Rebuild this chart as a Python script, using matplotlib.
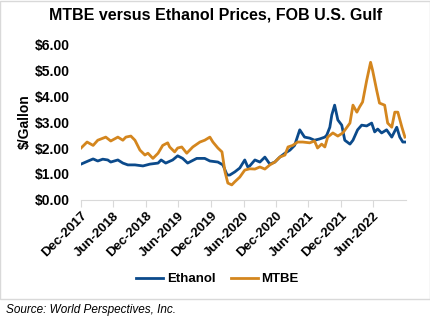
import pandas as pd
import matplotlib
matplotlib.use("Agg")
import matplotlib.pyplot as plt
import matplotlib.dates as mdates
from matplotlib.patches import Rectangle

plt.rcParams['font.family'] = ['Liberation Sans', 'DejaVu Sans']

eth_dates = ["2017-12-01", "2018-01-10", "2018-02-07", "2018-03-05", "2018-04-02", "2018-04-30",
             "2018-05-17", "2018-06-26", "2018-07-24", "2018-08-21", "2018-09-30", "2018-11-14",
             "2018-12-23", "2019-02-07", "2019-02-24", "2019-03-22", "2019-04-30", "2019-05-28",
             "2019-06-25", "2019-07-23", "2019-09-12", "2019-10-27", "2019-11-25", "2020-01-09",
             "2020-02-06", "2020-03-01", "2020-03-16", "2020-04-13", "2020-05-11", "2020-06-08",
             "2020-06-25", "2020-07-06", "2020-08-04", "2020-09-01", "2020-09-29", "2020-10-27",
             "2020-11-24", "2020-12-22", "2021-01-20", "2021-02-17", "2021-03-15", "2021-04-13",
             "2021-05-10", "2021-06-08", "2021-07-05", "2021-08-03", "2021-09-01", "2021-09-12",
             "2021-09-29", "2021-10-10", "2021-10-26", "2021-11-13", "2021-12-05", "2021-12-22",
             "2022-01-20", "2022-02-06", "2022-03-04", "2022-03-27", "2022-04-24", "2022-05-22",
             "2022-06-08", "2022-06-25", "2022-07-17", "2022-08-14", "2022-09-12", "2022-10-10",
             "2022-10-27", "2022-11-13", "2022-11-30"]
eth_vals = [1.38, 1.50, 1.58, 1.50, 1.57, 1.54,
            1.46, 1.54, 1.42, 1.35, 1.35, 1.31,
            1.38, 1.42, 1.54, 1.42, 1.54, 1.70,
            1.60, 1.42, 1.60, 1.60, 1.50, 1.46,
            1.35, 0.96, 0.96, 1.08, 1.23, 1.54,
            1.27, 1.31, 1.54, 1.46, 1.65, 1.38,
            1.46, 1.65, 1.80, 1.92, 2.10, 2.70,
            2.42, 2.38, 2.30, 2.35, 2.42, 2.50,
            2.80, 3.27, 3.65, 3.08, 2.88, 2.30,
            2.15, 2.30, 2.70, 2.88, 2.85, 2.96,
            2.62, 2.73, 2.58, 2.70, 2.42, 2.80,
            2.42, 2.23, 2.23]

mtbe_dates = ["2017-12-01", "2018-01-04", "2018-02-07", "2018-03-05", "2018-04-19", "2018-05-17",
              "2018-06-26", "2018-07-24", "2018-08-10", "2018-09-07", "2018-09-30", "2018-10-28",
              "2018-11-25", "2018-12-12", "2019-01-09", "2019-02-07", "2019-03-05", "2019-04-02",
              "2019-04-13", "2019-05-11", "2019-05-28", "2019-06-20", "2019-07-18", "2019-08-21",
              "2019-09-30", "2019-10-27", "2019-11-25", "2019-12-12", "2020-01-09", "2020-02-01",
              "2020-02-18", "2020-03-05", "2020-03-27", "2020-04-13", "2020-05-11", "2020-06-08",
              "2020-07-06", "2020-08-04", "2020-09-01", "2020-09-29", "2020-10-27", "2020-11-24",
              "2020-12-22", "2021-01-20", "2021-02-06", "2021-03-04", "2021-04-01", "2021-04-30",
              "2021-06-08", "2021-07-05", "2021-07-22", "2021-08-14", "2021-09-01", "2021-09-17",
              "2021-10-16", "2021-11-13", "2021-12-11", "2022-01-20", "2022-02-06", "2022-02-28",
              "2022-03-15", "2022-04-01", "2022-04-24", "2022-05-16", "2022-05-27", "2022-06-19",
              "2022-07-05", "2022-08-03", "2022-08-20", "2022-09-12", "2022-09-29", "2022-10-16",
              "2022-11-08", "2022-11-25"]
mtbe_vals = [2.00, 2.23, 2.10, 2.30, 2.42, 2.27,
             2.42, 2.30, 2.42, 2.46, 2.30, 1.92,
             1.73, 1.80, 1.60, 1.80, 2.10, 2.20,
             2.04, 1.85, 2.00, 2.04, 1.80, 2.04,
             2.23, 2.30, 2.42, 2.23, 2.00, 1.85,
             1.08, 0.65, 0.58, 0.70, 0.88, 1.15,
             1.20, 1.19, 1.27, 1.19, 1.35, 1.46,
             1.65, 1.73, 2.04, 2.10, 2.23, 2.23,
             2.20, 2.27, 2.00, 2.15, 2.04, 2.42,
             2.58, 2.46, 2.58, 2.96, 3.65, 3.38,
             3.58, 3.77, 4.60, 5.30, 5.00, 4.23,
             3.73, 3.65, 2.96, 2.80, 3.38, 3.38,
             2.80, 2.42]

tick_dates = ["2017-12-01", "2018-06-01", "2018-12-01", "2019-06-01", "2019-12-01",
              "2020-06-01", "2020-12-01", "2021-06-01", "2021-12-01", "2022-06-01"]
y_ticks = [0, 1, 2, 3, 4, 5, 6]

eth = pd.Series(eth_vals, index=pd.to_datetime(eth_dates))
mtbe = pd.Series(mtbe_vals, index=pd.to_datetime(mtbe_dates))

fig = plt.figure(figsize=(4.31, 3.22), dpi=100)
ax = fig.add_axes([0.188, 0.379, 0.754, 0.484])

ax.plot(eth.index, eth.values, color="#0B4A8B", lw=2.0, label="Ethanol")
ax.plot(mtbe.index, mtbe.values, color="#D4861E", lw=2.0, label="MTBE")

ax.set_xlim(pd.Timestamp("2017-12-01"), pd.Timestamp("2022-12-01"))
ax.set_ylim(0, 6)
ax.set_yticks(y_ticks)
ax.set_yticklabels([f"${v:.2f}" for v in y_ticks], fontsize=10, fontweight="bold")
ax.tick_params(axis="y", length=0, pad=8)

ticks = pd.to_datetime(tick_dates)
ax.set_xticks(ticks)
ax.xaxis.set_major_formatter(mdates.DateFormatter("%b-%Y"))
for lbl in ax.get_xticklabels():
    lbl.set_rotation(45)
    lbl.set_ha("right")
    lbl.set_rotation_mode("anchor")
    lbl.set_fontsize(9.5)
    lbl.set_fontweight("bold")
ax.tick_params(axis="x", length=5, color="#D9D9D9", pad=2)

for s in ["top", "right", "left"]:
    ax.spines[s].set_visible(False)
ax.spines["bottom"].set_color("#D9D9D9")

ax.set_ylabel("$/Gallon", fontsize=10, fontweight="bold", labelpad=2)

fig.text(0.5, 0.953, "MTBE versus Ethanol Prices, FOB U.S. Gulf", fontsize=11.5,
         fontweight="bold", ha="center", va="center")

fig.legend(loc="center", bbox_to_anchor=(0.505, 0.133), ncol=2, frameon=False,
           prop={"size": 9.5, "weight": "bold"}, handlelength=2.0, columnspacing=1.2,
           handletextpad=0.3)

fig.patches.append(Rectangle((0.001, 0.072), 0.996, 0.926, transform=fig.transFigure,
                             fill=False, edgecolor="#D9D9D9", lw=1))
fig.text(0.014, 0.038, "Source: World Perspectives, Inc.", fontsize=8.5, style="italic",
         va="center")

fig.savefig("out.png", dpi=100)
